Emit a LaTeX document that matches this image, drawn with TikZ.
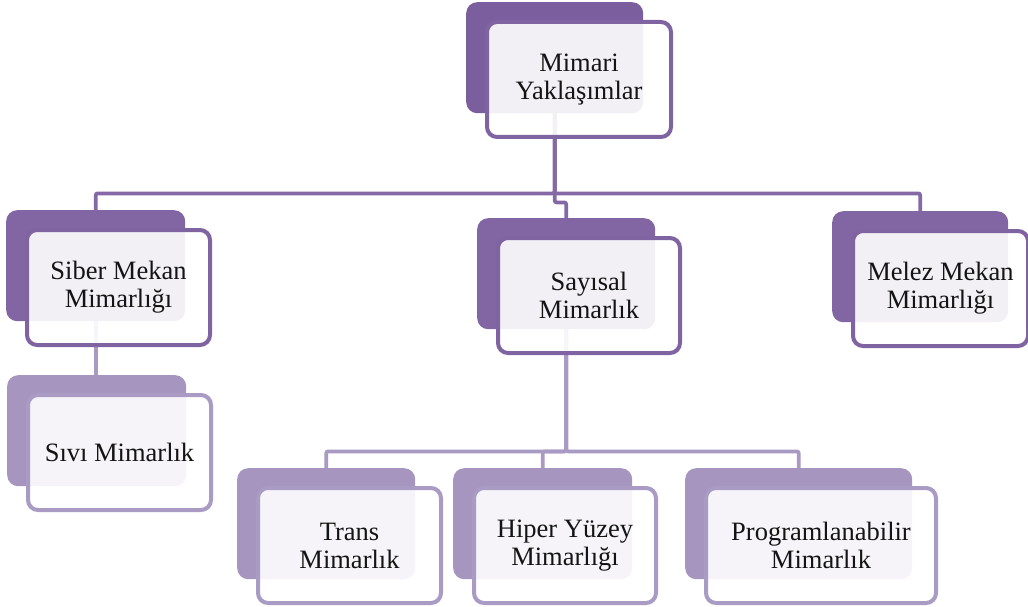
\documentclass[tikz,border=0pt]{standalone}
\usepackage{fontspec}
\setmainfont{Liberation Serif}
\usetikzlibrary{calc}

\definecolor{plumA}{HTML}{7B5E9D}
\definecolor{plumB}{HTML}{8266A3}
\definecolor{plumC}{HTML}{A595BF}
\definecolor{edgeB}{HTML}{8064A2}
\definecolor{edgeC}{HTML}{A99BC4}
\definecolor{linkB}{HTML}{8569A6}
\definecolor{linkC}{HTML}{A89AC3}

\tikzset{
  backbox/.style={rectangle, rounded corners=11pt, anchor=north west, inner sep=0pt,
    minimum height=111pt, fill=#1},
  frontbox/.style={rectangle, rounded corners=10pt, anchor=north west, inner sep=0pt,
    minimum height=115pt, draw=#1, line width=4pt, fill=white, fill opacity=0.9,
    text opacity=1, align=center, text=black!92, font=\fontsize{26.5}{28}\selectfont},
  link/.style={draw=#1, line width=3.8pt, rounded corners=2pt},
}

% back panel: name, x, y, width, colour
\newcommand{\backpanel}[5]{\node[backbox=#5, minimum width=#4pt] (#1b) at (#2,#3) {};}
% front panel over the back panel: name, width, border colour, text
\newcommand{\frontpanel}[4]{\node[frontbox=#3, minimum width=#2pt] (#1) at ($(#1b.north west)+(19,18)$) {#4};}

\begin{document}
\begin{tikzpicture}[x=1pt,y=-1pt]
\useasboundingbox (0,0) rectangle (1028,607);

% back panels
\backpanel{root}{466}{2}{177}{plumA}
\backpanel{siber}{6}{210}{179}{plumB}
\backpanel{say}{477}{218}{178}{plumB}
\backpanel{melez}{832}{211}{176}{plumB}
\backpanel{sivi}{7}{375}{179}{plumC}
\backpanel{trans}{237}{468}{178}{plumC}
\backpanel{hiper}{453}{468}{179}{plumC}
\backpanel{prog}{685}{468}{227}{plumC}

% connectors
\draw[link=linkB] (rootb.south) -- ++(0,80) -| (siberb.north);
\draw[link=linkB] (rootb.south) -- ++(0,80) -| (melezb.north);
\draw[link=linkB] (rootb.south) -- ++(0,89) -| (sayb.north);
\draw[link=linkC] (siberb.south) -- (siberb.south |- sivib.north);
\draw[link=linkC] (sayb.south) -- ++(0,122) -| (transb.north);
\draw[link=linkC] (sayb.south) -- ++(0,122) -| (hiperb.north);
\draw[link=linkC] (sayb.south) -- ++(0,122) -| (progb.north);

% front panels with labels
\frontpanel{root}{184}{edgeB}{Mimari\\Yaklaşımlar}
\frontpanel{siber}{183}{edgeB}{Siber Mekan\\Mimarlığı}
\frontpanel{say}{182}{edgeB}{Sayısal\\Mimarlık}
\frontpanel{melez}{175}{edgeB}{Melez Mekan\\Mimarlığı}
\frontpanel{sivi}{183}{edgeC}{Sıvı Mimarlık}
\frontpanel{trans}{183}{edgeC}{Trans\\Mimarlık}
\frontpanel{hiper}{182}{edgeC}{Hiper Yüzey\\Mimarlığı}
\frontpanel{prog}{230}{edgeC}{Programlanabilir\\Mimarlık}
\end{tikzpicture}
\end{document}
